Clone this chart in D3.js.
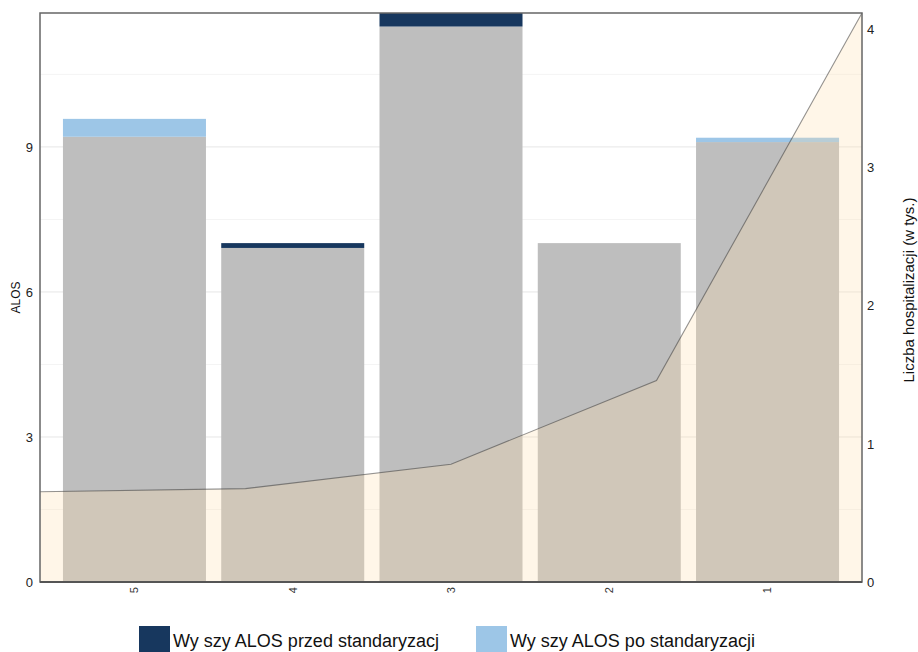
<!DOCTYPE html>
<html><head><meta charset="utf-8">
<script src="https://cdn.jsdelivr.net/npm/d3@7"></script>
<style>body{margin:0;background:#fff}svg{font-family:"Liberation Sans",Arial,sans-serif}</style>
</head><body><svg id="c" width="918" height="652"></svg>
<script>
const categories = ["5","4","3","2","1"];
const alosBefore = [9.21, 7.01, 11.77, 7.01, 9.10];
const alosAfter  = [9.58, 6.91, 11.49, 7.01, 9.19];
const hospitalizations = [0.654, 0.676, 0.853, 1.459, 4.12];
const leftTicks = [0, 3, 6, 9];
const rightTicks = [0, 1, 2, 3, 4];
const legendLabels = ["Wy szy ALOS przed standaryzacj", "Wy szy ALOS po standaryzacji"];

const svg = d3.select("#c");
const L = 40, R = 862, T = 13, B = 582;
const x = d3.scaleBand().domain(categories).range([L, R]).paddingInner(0.0964).paddingOuter(0.145);
const xp = d3.scalePoint().domain(categories).range([L, R]);
const y = d3.scaleLinear().domain([0, d3.max(alosBefore.concat(alosAfter))]).range([B, T]);
const y2 = d3.scaleLinear().domain([0, d3.max(hospitalizations)]).range([B, T]);

// grid
const minor = d3.range(1.5, y.domain()[1], 1.5).filter(v => v % 3 !== 0);
svg.append("g").selectAll("line").data(minor).join("line")
  .attr("x1", L).attr("x2", R).attr("y1", d => y(d)).attr("y2", d => y(d))
  .attr("stroke", "#f4f4f4").attr("stroke-width", 1);
svg.append("g").selectAll("line").data(leftTicks.slice(1)).join("line")
  .attr("x1", L).attr("x2", R).attr("y1", d => y(d)).attr("y2", d => y(d))
  .attr("stroke", "#e6e6e6").attr("stroke-width", 1);

const data = categories.map((c, i) => ({c, b: alosBefore[i], a: alosAfter[i], h: hospitalizations[i]}));

// gray base bars
svg.append("g").selectAll("rect").data(data).join("rect")
  .attr("x", d => x(d.c)).attr("width", x.bandwidth())
  .attr("y", d => y(Math.min(d.a, d.b))).attr("height", d => B - y(Math.min(d.a, d.b)))
  .attr("fill", "#bebebe");
// before-higher segments
svg.append("g").selectAll("rect").data(data.filter(d => d.b > d.a)).join("rect")
  .attr("x", d => x(d.c)).attr("width", x.bandwidth())
  .attr("y", d => y(d.b)).attr("height", d => y(d.a) - y(d.b))
  .attr("fill", "#17375e");
// after-higher segments
svg.append("g").selectAll("rect").data(data.filter(d => d.a > d.b)).join("rect")
  .attr("x", d => x(d.c)).attr("width", x.bandwidth())
  .attr("y", d => y(d.a)).attr("height", d => y(d.b) - y(d.a))
  .attr("fill", "#9dc6e7");

// area
const area = d3.area().x(d => xp(d.c)).y0(B).y1(d => y2(d.h));
const line = d3.line().x(d => xp(d.c)).y(d => y2(d.h));
svg.append("path").datum(data).attr("d", area).attr("fill", "#ffdead").attr("fill-opacity", 0.28);
svg.append("path").datum(data).attr("d", line).attr("fill", "none")
  .attr("stroke", "rgba(60,60,60,0.55)").attr("stroke-width", 1.1);

// frame
svg.append("rect").attr("x", L).attr("y", T).attr("width", R - L).attr("height", B - T)
  .attr("fill", "none").attr("stroke", "#666").attr("stroke-width", 1.5);
svg.append("line").attr("x1", L).attr("x2", R).attr("y1", B).attr("y2", B)
  .attr("stroke", "#555").attr("stroke-width", 2);

// left axis
const gl = svg.append("g").attr("transform", `translate(${L},0)`)
  .call(d3.axisLeft(y).tickValues(leftTicks).tickSize(0).tickPadding(7).tickFormat(d3.format("d")));
gl.select(".domain").remove();
gl.selectAll("text").attr("font-size", 13).attr("fill", "#222").attr("font-family", "Liberation Sans, Arial, sans-serif");

// right axis
const gr = svg.append("g").attr("transform", `translate(${R},0)`)
  .call(d3.axisRight(y2).tickValues(rightTicks).tickSize(0).tickPadding(5).tickFormat(d3.format("d")));
gr.select(".domain").remove();
gr.selectAll("text").attr("font-size", 13).attr("fill", "#222").attr("font-family", "Liberation Sans, Arial, sans-serif");

// bottom axis
const gb = svg.append("g").attr("transform", `translate(0,${B})`)
  .call(d3.axisBottom(x).tickSize(0));
gb.select(".domain").remove();
gb.selectAll("text").attr("font-size", 11).attr("fill", "#333")
  .attr("font-family", "Liberation Sans, Arial, sans-serif")
  .attr("text-anchor", "end").attr("transform", "rotate(-90)")
  .attr("x", -5).attr("y", 0).attr("dy", "0.35em");

// axis titles
svg.append("text").attr("transform", `translate(20,${(T + B) / 2}) rotate(-90)`)
  .attr("text-anchor", "middle").attr("font-size", 12).attr("fill", "#111").text("ALOS");
svg.append("text").attr("transform", `translate(909,290) rotate(-90)`)
  .attr("text-anchor", "middle").attr("dy", "0.35em").attr("font-size", 15).attr("fill", "#111")
  .text("Liczba hospitalizacji (w tys.)");

// legend
const legColors = ["#17375e", "#9dc6e7"];
const legX = [139, 476];
legendLabels.forEach((t, i) => {
  svg.append("rect").attr("x", legX[i]).attr("y", 626).attr("width", 31).attr("height", 31).attr("fill", legColors[i]);
  svg.append("text").attr("x", legX[i] + 34).attr("y", 647).attr("font-size", 18).attr("fill", "#111").text(t);
});
</script></body></html>
